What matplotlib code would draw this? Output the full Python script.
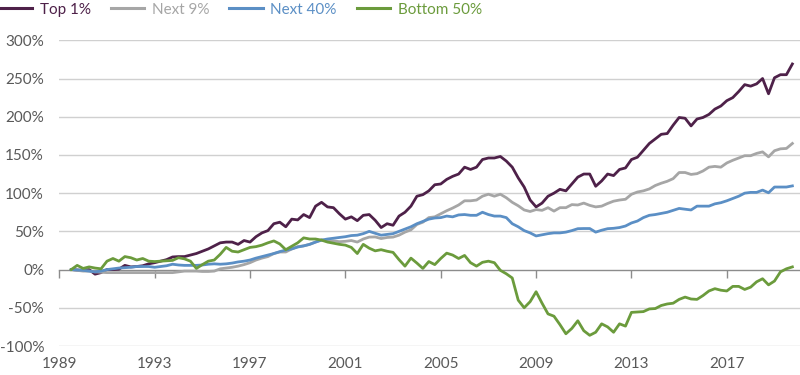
import numpy as np
import pandas as pd
import matplotlib
matplotlib.use("Agg")
import matplotlib.pyplot as plt
from matplotlib.lines import Line2D

plt.rcParams['font.family'] = ['Lato', 'DejaVu Sans']

# Quarterly periods 1989Q3 .. 2019Q4
quarters = pd.period_range('1989Q3', '2019Q4', freq='Q')

series_names = ["Top 1%", "Next 9%", "Next 40%", "Bottom 50%"]

top1 = [0, -0.5, -1, 0, -6, -4, 0, 0, 0.5, 5.5, 3.5, 4, 5, 7.5, 9, 11, 13, 16.5, 17, 17,
        19, 21, 24, 27, 31, 35, 36, 36, 33, 38, 36, 43, 48, 51, 60, 62, 56, 66, 65, 72,
        68, 83, 88, 82, 81, 73, 66, 69, 64, 71, 72, 64.5, 55, 60, 58, 70, 75, 83, 96, 98,
        103, 111, 112, 118, 122, 125, 134, 131, 134, 144, 146, 146, 148, 142, 134, 120, 108, 91, 82, 87,
        96, 100, 105, 103, 112, 121, 125, 125, 109, 116, 125, 123, 131, 133, 144, 147, 156, 165, 171, 177,
        178, 189, 199, 198, 188, 197, 199, 203, 210, 214, 221, 225, 233, 242, 240, 243, 250, 230, 251, 255,
        255, 269]

next9 = [0, -1, -2, -2, -3, -3.5, -4, -4, -4, -4, -4, -4, -4, -4, -4, -4, -4, -4, -3, -2,
         -2, -2, -2.5, -2.5, -2, 1, 2, 3, 4.5, 6.5, 9, 12.5, 15, 17, 21, 23, 23, 27, 30, 31,
         33, 36, 39, 37.5, 37.5, 36.5, 37, 38, 36, 40, 42.5, 42.7, 40.6, 42, 42.5, 45, 49, 52, 59, 62,
         68, 69, 73, 77, 80.5, 84.5, 90, 90, 91, 96, 98.6, 96, 98.6, 94, 88, 83.5, 78, 76, 78.5, 77.5,
         81, 76.5, 81, 81, 85, 84.5, 87, 84, 82, 83, 86.5, 89.5, 91, 92, 98.5, 101.5, 103, 105.5, 110, 113,
         115.5, 119, 127, 127, 124.5, 125.5, 129, 134, 135, 134, 139.5, 143, 146, 149, 149, 152, 154, 147.5, 155.5, 158,
         158.5, 165]

next40 = [0, -0.5, -1, -2, -3, -2, 0, 1, 2, 2.5, 3, 4, 4, 4, 3, 4, 5, 7, 6, 5.5,
          5.5, 5.5, 6, 7, 7.5, 7, 7.5, 8.5, 10, 11, 12.5, 15, 17, 19, 21, 23.5, 25.5, 27, 29.5, 31,
          33, 36, 38.5, 40, 41, 42, 43, 44.5, 45, 47, 50, 47.5, 45, 46, 47, 50, 53, 56, 60, 63,
          66, 67.5, 68, 70, 69, 71.5, 72, 71, 71, 75, 72, 70, 70, 68, 60, 56, 51, 48, 44, 45.5,
          47, 48, 48, 49, 51, 53.5, 53.7, 53.7, 49, 51.5, 53.5, 54, 55, 57, 61, 63.5, 68, 71, 72, 73.5,
          75, 77.5, 80, 79, 78, 83, 83, 83, 86, 87.5, 90, 93, 96, 100, 101, 101, 104, 100.5, 108, 108,
          108, 109.5]

bottom50 = [0, 5.5, 1.5, 3.5, 2, 1, 11, 14.5, 11, 17, 15.5, 12.5, 14.5, 11, 10.5, 11, 11.5, 12, 15.5, 14,
            11, 1.5, 6.5, 11, 12.5, 20, 29, 24, 23, 26, 29, 30, 32, 35, 37.5, 33.5, 26, 30.5, 35, 41.5,
            40, 40, 38.5, 36, 34.5, 33, 32, 29, 21, 33, 28, 24.5, 26, 24, 22.5, 13, 4.5, 15, 8.5, 1.5,
            10.5, 6.5, 14.5, 21.5, 19, 14.5, 18.5, 9, 4.5, 9.5, 11, 9, -1, -5.5, -11, -40, -50, -42, -29, -44,
            -58, -61, -72, -84, -77, -67, -80, -86, -82, -71, -75, -82, -71, -74, -56, -55.5, -55, -51.5, -51, -47,
            -45, -44, -39, -36, -38.5, -39, -34, -28, -25, -27, -28, -22, -22, -26, -23, -16, -12, -20, -15, -3,
            1, 3.5]

colors = ["#4e2149", "#a6a6a6", "#5b8fc5", "#6b9b3c"]

y_ticks = [-100, -50, 0, 50, 100, 150, 200, 250, 300]
y_tick_labels = ["-100%", "-50%", "0%", "50%", "100%", "150%", "200%", "250%", "300%"]
x_label_years = [1989, 1993, 1997, 2001, 2005, 2009, 2013, 2017]

x = np.array([p.year + (p.quarter - 1) / 4 for p in quarters])

fig = plt.figure(figsize=(8, 3.75), dpi=100)
ax = fig.add_axes([59.3 / 800, 1 - 346 / 375, 740.7 / 800, (346 - 40.3) / 375])

for vals, c in zip([top1, next9, next40, bottom50], colors):
    ax.plot(x, vals, color=c, lw=2.0, solid_joinstyle='round', zorder=3)

ax.set_ylim(-100, 300)
ax.set_xlim(1989, 2020.07)

ax.set_yticks(y_ticks)
ax.set_yticklabels(y_tick_labels)
ax.tick_params(axis='y', length=0, pad=11, labelsize=11, labelcolor="#595959")
for yv in y_ticks:
    if yv != 0:
        ax.axhline(yv, color="#d0d0d0", lw=1.0, zorder=1)

for s in ["top", "right", "left"]:
    ax.spines[s].set_visible(False)
ax.spines["bottom"].set_position(("data", 0))
ax.spines["bottom"].set_color("#8c8c8c")
ax.spines["bottom"].set_linewidth(1.0)
ax.spines["bottom"].set_zorder(2)
ax.set_xticks(x_label_years)
ax.tick_params(axis='x', length=6, width=1.0, color="#8c8c8c", direction='out', labelbottom=False)
for yr in x_label_years:
    ax.text(yr, -0.035, str(yr), transform=ax.get_xaxis_transform(), ha='center', va='top',
            fontsize=11, color="#595959")

handles = [Line2D([0], [0], color=c, lw=2.2) for c in colors]
leg = fig.legend(handles, series_names, loc='upper left', bbox_to_anchor=(-0.002, 0.993), ncol=4,
                 frameon=False, fontsize=11, handlelength=2.2, handletextpad=0.5,
                 columnspacing=1.3, borderpad=0.0, borderaxespad=0.0)
for t, c in zip(leg.get_texts(), colors):
    t.set_color(c)

fig.savefig("out.png", dpi=100)
